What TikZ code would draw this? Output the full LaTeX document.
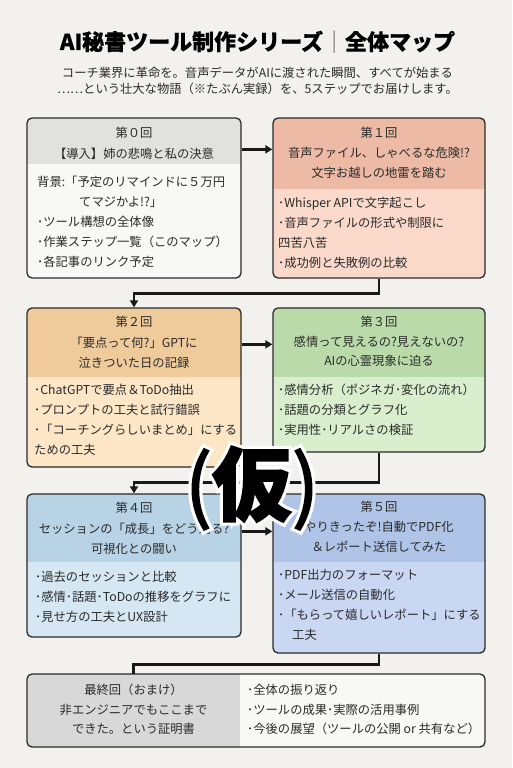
\documentclass[tikz,border=0pt]{standalone}
\usepackage{fontspec}
\setmainfont{Noto Sans CJK JP}
\newfontfamily\karihalo[FakeBold=10]{Noto Sans CJK JP}
\newfontfamily\karifont[FakeBold=2]{Noto Sans CJK JP}
\newfontfamily\titlefont[FakeBold=0.6]{Noto Sans CJK JP}
\usetikzlibrary{arrows.meta,calc}
\definecolor{bg}{HTML}{F2F1EE}
\definecolor{ink}{HTML}{2A2A2A}
\definecolor{h0}{HTML}{E1E1DF}\definecolor{c0}{HTML}{F8F8F6}
\definecolor{h1}{HTML}{ECBAA5}\definecolor{c1}{HTML}{FAD9CA}
\definecolor{h2}{HTML}{EFCB9C}\definecolor{c2}{HTML}{FCE6C6}
\definecolor{h3}{HTML}{BADAA9}\definecolor{c3}{HTML}{D8EECD}
\definecolor{h4}{HTML}{B8D3E6}\definecolor{c4}{HTML}{D5E7F2}
\definecolor{h5}{HTML}{B0C4E7}\definecolor{c5}{HTML}{C9D7F2}
\definecolor{hf}{HTML}{D8D8D8}
\newcommand\mkpanel[8]{%
  \begin{scope}
    \clip[rounded corners=5pt] (#2,#3) rectangle (#4,#5);
    \fill[#8] (#2,#3) rectangle (#4,#5);
    \fill[#7] (#2,#3) rectangle (#4,#6);
  \end{scope}
  \node[frame, minimum width={(#4-#2)*1pt}, minimum height={(#5-#3)*1pt}] (#1) at ({(#2+#4)/2},{(#3+#5)/2}) {};
}
\newcommand\karitext{(\textbf{仮})}
\begin{document}
\begin{tikzpicture}[x=1pt,y=-1pt,
  frame/.style={draw=ink, line width=1.3pt, rounded corners=5pt, inner sep=0pt},
  conn/.style={line width=2.6pt, draw=black!90},
  tip/.style={-{Triangle[length=7pt,width=8pt]}},
  txt/.style={text=ink, font=\fontsize{12.3}{15}\selectfont, inner sep=0pt},
  hd/.style={txt, anchor=base},
  bd/.style={txt, anchor=base west},
]
\fill[bg] (0,0) rectangle (512,768);
\useasboundingbox (0,0) rectangle (512,768);

% title
\node[anchor=base, inner sep=0pt, text=black] (title) at (257.5,50) {\titlefont\fontsize{22}{26}\bfseries AI秘書ツール制作シリーズ{\mdseries\color{gray}｜}全体マップ};
\node[hd] (sub1) at (257.5,77.5) {コーチ業界に革命を。音声データがAIに渡された瞬間、すべてが始まる};
\node[hd] (sub2) at (257.5,93.5) {……という壮大な物語（※たぶん実録）を、5ステップでお届けします。};

% panels
\mkpanel{p0}{27}{118}{241}{278}{164}{h0}{c0}
\mkpanel{p1}{273}{118}{485}{278}{189}{h1}{c1}
\mkpanel{p2}{27}{308}{241}{467}{377}{h2}{c2}
\mkpanel{p3}{273}{308}{485}{452}{377}{h3}{c3}
\mkpanel{p4}{27}{494}{241}{637}{562}{h4}{c4}
\mkpanel{p5}{273}{494}{485}{653}{562}{h5}{c5}

% headers
\foreach \t [count=\i from 0] in {第０回,【導入】姉の悲鳴と私の決意}
  \node[hd] (p0h\i) at (134,{137.5+\i*21}) {\t};
\foreach \t [count=\i from 0] in {第１回,音声ファイル、しゃべるな危険!?,文字お越しの地雷を踏む}
  \node[hd] (p1h\i) at (379,{137.5+\i*20}) {\t};
\foreach \t [count=\i from 0] in {第２回,「要点って何?」GPTに,泣きついた日の記録}
  \node[hd] (p2h\i) at (134,{326.5+\i*20.5}) {\t};
\foreach \t [count=\i from 0] in {第３回,感情って見えるの?見えないの?,AIの心霊現象に迫る}
  \node[hd] (p3h\i) at (379,{326.5+\i*19.5}) {\t};
\foreach \t [count=\i from 0] in {第４回,セッションの「成長」をどう測る?,可視化との闘い}
  \node[hd] (p4h\i) at (134,{512.5+\i*20.5}) {\t};
\foreach \t [count=\i from 0] in {第５回,やりきったぞ!自動でPDF化,＆レポート送信してみた}
  \node[hd] (p5h\i) at (379,{511.5+\i*20}) {\t};

% bodies
\foreach \t [count=\i from 0] in {背景:「予定のリマインドに５万円,\hspace*{42pt}てマジかよ!?」,･ツール構想の全体像,･作業ステップ一覧（このマップ）,･各記事のリンク予定}
  \node[bd] (p0b\i) at (37,{186.5+\i*20}) {\t};
\foreach \t [count=\i from 0] in {･Whisper APIで文字起こし,･音声ファイルの形式や制限に,四苦八苦,･成功例と失敗例の比較}
  \node[bd] (p1b\i) at (278,{207.5+\i*20}) {\t};
\foreach \t [count=\i from 0] in {･ChatGPTで要点＆ToDo抽出,･プロンプトの工夫と試行錯誤,･「コーチングらしいまとめ」にする,ための工夫}
  \node[bd] (p2b\i) at (34,{394.5+\i*20}) {\t};
\foreach \t [count=\i from 0] in {･感情分析（ポジネガ･変化の流れ）,･話題の分類とグラフ化,･実用性･リアルさの検証}
  \node[bd] (p3b\i) at (278,{394.5+\i*20}) {\t};
\foreach \t [count=\i from 0] in {･過去のセッションと比較,･感情･話題･ToDoの推移をグラフに,･見せ方の工夫とUX設計}
  \node[bd] (p4b\i) at (35,{581.5+\i*20}) {\t};
\foreach \t [count=\i from 0] in {･PDF出力のフォーマット,･メール送信の自動化,･「もらって嬉しいレポート」にする,\hspace*{14pt}工夫}
  \node[bd] (p5b\i) at (278,{579.5+\i*20}) {\t};

% final panel
\begin{scope}
  \clip[rounded corners=5pt] (27,674) rectangle (485,747);
  \fill[c0] (27,674) rectangle (485,747);
  \fill[hf] (27,674) rectangle (240,747);
\end{scope}
\node[frame, minimum width=458pt, minimum height=73pt] (pf) at (256,710.5) {};
\node[inner sep=0pt, minimum width=213pt, minimum height=73pt] (pfL) at (133.5,710.5) {};
\foreach \t [count=\i from 0] in {最終回（おまけ）,非エンジニアでもここまで,できた。という証明書}
  \node[hd] (pfh\i) at (133.5,{694.5+\i*19.5}) {\t};
\foreach \t [count=\i from 0] in {･全体の振り返り,･ツールの成果･実際の活用事例,･今後の展望（ツールの公開 or 共有など）}
  \node[bd] (pfb\i) at (247,{694.5+\i*19.5}) {\t};

% connectors
\draw[conn,tip] ($(p0.north east)+(0,32)$) -- ($(p1.north west)+(0,32)$);
\draw[conn,tip] (p1.south) -- ++(0,15) -| (p2.north);
\draw[conn,tip] ($(p2.north east)+(0,37)$) -- ($(p3.north west)+(0,37)$);
\draw[conn,tip] (p3.south) -- ++(0,30) -| (p4.north);
\draw[conn,tip] ($(p4.north east)+(0,38)$) -- ($(p5.north west)+(0,38)$);
\draw[conn] (p5.south) -- ++(0,11) -| (pfL.north);

% watermark
\coordinate (kc) at (252,488);
\node[inner sep=0pt, text=white, font=\karihalo\fontsize{80}{80}\selectfont] (karihalo) at (kc) {\karitext};
\node[inner sep=0pt, text=black, font=\karifont\fontsize{80}{80}\selectfont] (kari) at (kc) {\karitext};
\end{tikzpicture}
\end{document}
